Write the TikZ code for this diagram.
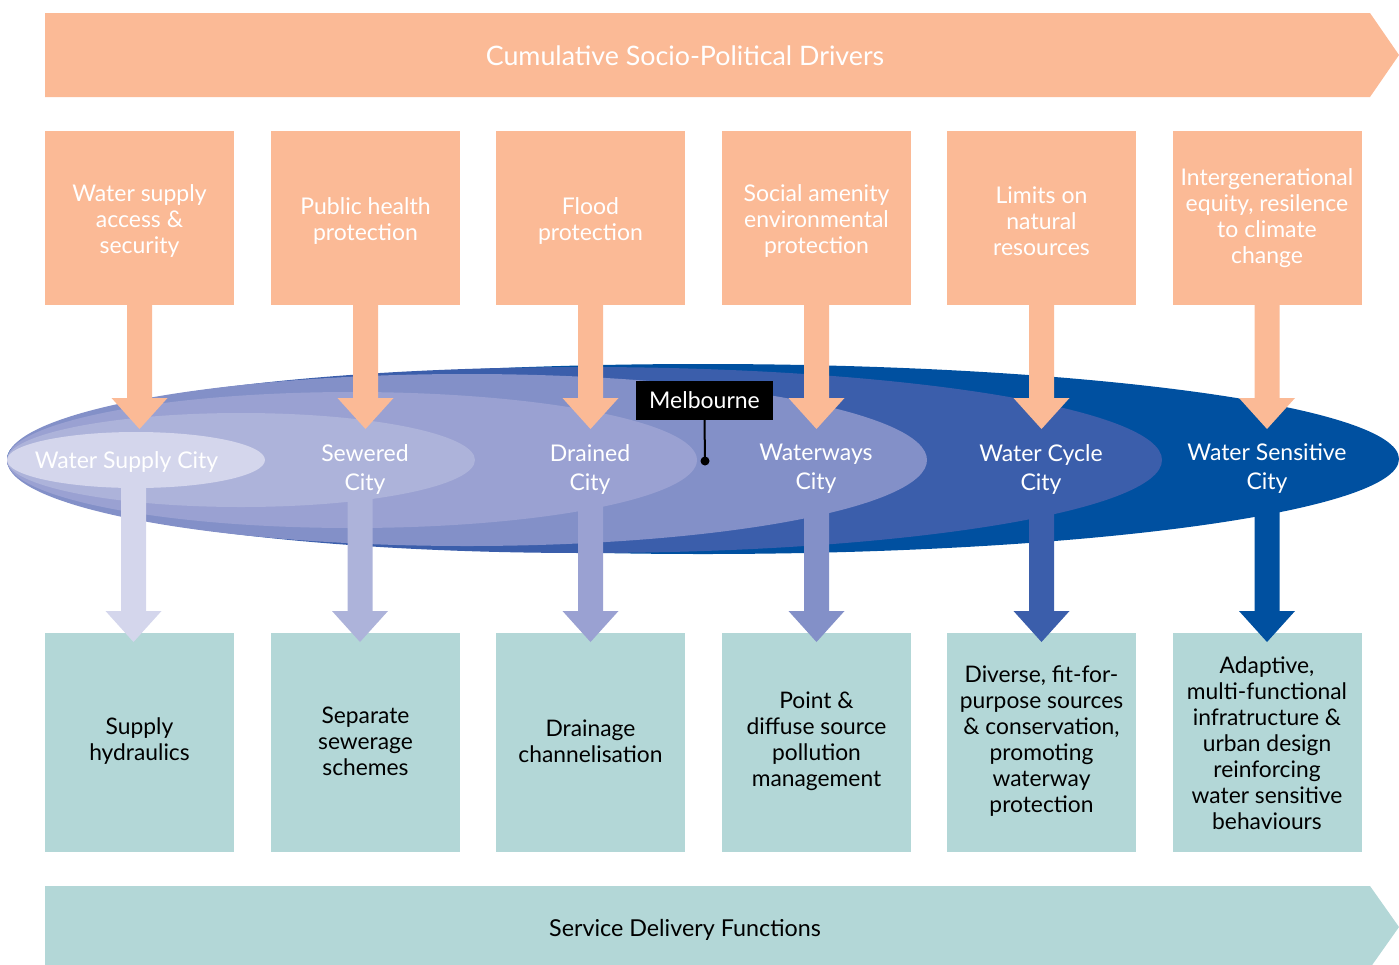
\documentclass[tikz,border=0pt]{standalone}
\usepackage{fontspec}
\setmainfont{Lato}
\definecolor{ora}{HTML}{FBBA96}
\definecolor{tea}{HTML}{B3D7D7}
\definecolor{ea}{HTML}{D4D6EC}
\definecolor{eb}{HTML}{ADB3DA}
\definecolor{ec}{HTML}{9AA1D2}
\definecolor{ed}{HTML}{8390C8}
\definecolor{ee}{HTML}{3B5EAB}
\definecolor{ef}{HTML}{0050A0}
\newcommand{\blkarrow}[5]{\fill[#5] ({#1-12.5},#2) -- ({#1+12.5},#2) -- ({#1+12.5},#3) -- ({#1+28},#3) -- (#1,#4) -- ({#1-28},#3) -- ({#1-12.5},#3) -- cycle;}
\begin{document}
\begin{tikzpicture}[x=1pt,y=-1pt,
  drv/.style={fill=ora, minimum width=189pt, minimum height=174pt, text=white, align=center, font=\fontsize{23}{26}\selectfont, inner sep=0pt},
  drvtext/.style={text=white, align=center, font=\fontsize{23}{26}\selectfont, inner sep=0pt},
  svc/.style={fill=tea, minimum width=189pt, minimum height=219pt, inner sep=0pt},
  svctext/.style={text=black, align=center, font=\fontsize{22.8}{26}\selectfont, inner sep=0pt},
  city/.style={text=white, align=center, font=\fontsize{23}{29}\selectfont, inner sep=0pt},
  banner/.style={text=#1, inner sep=0pt}]
\useasboundingbox (0,0) rectangle (1399,964);
\clip (0,0) rectangle (1399,964);
% banners
\fill[ora] (45,13) -- (1370,13) -- (1399,55) -- (1370,97) -- (45,97) -- cycle;
\node[banner=white, font=\fontsize{26.8}{30}\selectfont] (top) at (685,56) {Cumulative Socio-Political Drivers};
\fill[tea] (45,886) -- (1370,886) -- (1399,927) -- (1370,968) -- (45,968) -- cycle;
\node[banner=black, font=\fontsize{23.3}{26}\selectfont] (bot) at (685,930) {Service Delivery Functions};
% driver boxes
\foreach \i/\x in {1/139.5,2/365.5,3/590.5,4/816.5,5/1041.5,6/1267}{
  \node[fill=ora, minimum width=189pt, minimum height=174pt, inner sep=0pt] (d\i) at (\x,218) {};
  \node[svc] (s\i) at (\x,742.5) {};
}
\node[drvtext] (dt1) at (139.5,221) {Water supply\\access \&\\security};
\node[drvtext] (dt2) at (365.5,221) {Public health\\protection};
\node[drvtext] (dt3) at (590.5,221) {Flood\\protection};
\node[drvtext] (dt4) at (816.5,221) {Social amenity\\environmental\\protection};
\node[drvtext] (dt5) at (1041.5,221) {Limits on\\natural\\resources};
\node[drvtext] (dt6) at (1267,218) {Intergenerational\\equity, resilence\\to climate\\change};
% service texts
\node[svctext] (st1) at (139.5,741) {Supply\\hydraulics};
\node[svctext] (st2) at (365.5,741) {Separate\\sewerage\\schemes};
\node[svctext] (st3) at (590.5,741) {Drainage\\channelisation};
\node[svctext] (st4) at (816.5,741) {Point \&\\diffuse source\\pollution\\management};
\node[svctext] (st5) at (1041.5,741) {Diverse, fit-for-\\purpose sources\\\& conservation,\\promoting\\waterway\\protection};
\node[svctext] (st6) at (1267,743) {Adaptive,\\multi-functional\\infratructure \&\\urban design\\reinforcing\\water sensitive\\behaviours};
% ellipses
\fill[ef] (703,459) ellipse [x radius=696, y radius=95];
\fill[ee] (584.5,460) ellipse [x radius=577.5, y radius=93];
\fill[ed] (467,460) ellipse [x radius=460, y radius=86];
\fill[ec] (352,460) ellipse [x radius=345, y radius=68];
\fill[eb] (241,460) ellipse [x radius=234, y radius=47];
\fill[ea] (136,460) ellipse [x radius=129, y radius=28];
% output arrows
\blkarrow{133.5}{470}{611}{642}{ea}
\blkarrow{360}{475}{611}{642}{eb}
\blkarrow{590.5}{475}{611}{642}{ec}
\blkarrow{816.5}{475}{611}{642}{ed}
\blkarrow{1041.5}{475}{611}{642}{ee}
\blkarrow{1267}{475}{611}{642}{ef}
% driver arrows
\foreach \x in {139.5,365.5,590.5,816.5,1041.5,1267}{\blkarrow{\x}{300}{398}{429}{ora}}
% city labels
\node[city] (c1) at (126.5,462) {Water Supply City};
\node[city] (c2) at (365,469) {Sewered\\City};
\node[city] (c3) at (590,469) {Drained\\City};
\node[city] (c4) at (816,469) {Waterways\\City};
\node[city] (c5) at (1041,469) {Water Cycle\\City};
\node[city] (c6) at (1267,469) {Water Sensitive\\City};
% Melbourne
\node[fill=black, text=white, minimum width=137pt, minimum height=39pt, inner sep=0pt, font=\fontsize{23}{26}\selectfont] (mel) at (704.5,400.5) {Melbourne};
\coordinate (meldot) at (705,461);
\draw[line width=2pt] (mel.south) -- (meldot);
\fill (meldot) circle (4.5);
\end{tikzpicture}
\end{document}
